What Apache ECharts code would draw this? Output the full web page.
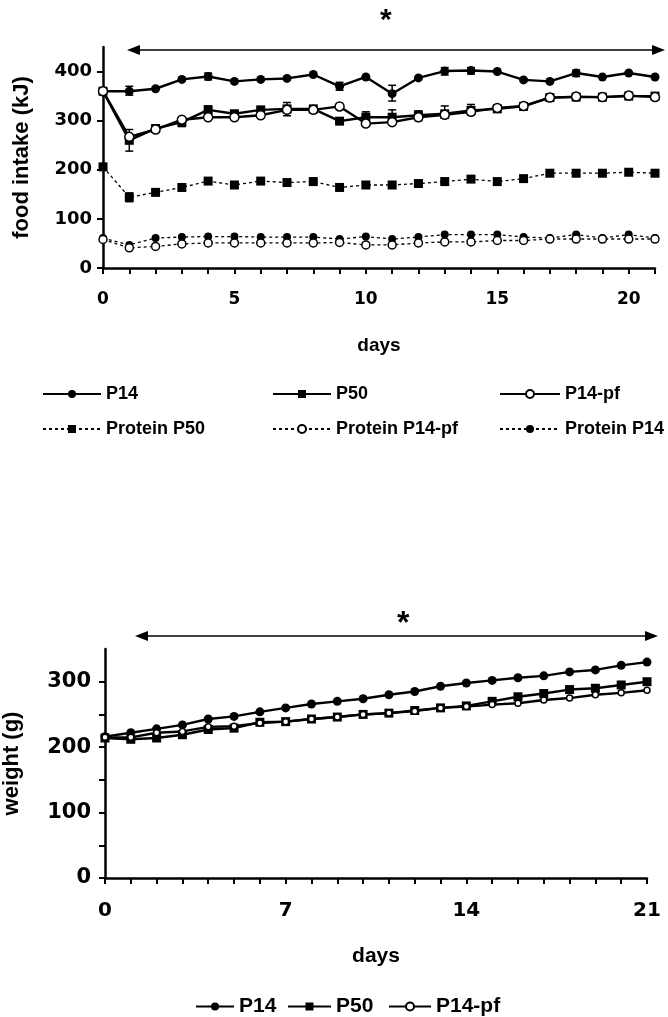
<!DOCTYPE html>
<html>
<head>
<meta charset="utf-8">
<title>food intake and weight</title>
<script src="https://cdn.jsdelivr.net/npm/echarts@6/dist/echarts.min.js"></script>
<style>
  html, body { margin: 0; padding: 0; background: #fff; }
  #main { width: 668px; height: 1017px; }
</style>
</head>
<body>
<div id="main"></div>
<script>
// ---- data ----
var days = [0,1,2,3,4,5,6,7,8,9,10,11,12,13,14,15,16,17,18,19,20,21];

// food intake (kJ)
var intakeP14   = [360,360,365,384,390,380,384,386,394,370,389,355,387,401,402,400,383,380,397,389,397,389];
var intakeP50   = [360,260,284,297,322,314,322,324,324,299,307,307,311,314,321,324,329,347,348,348,350,350];
var intakeP14pf = [360,267,282,302,307,307,311,322,322,329,294,297,307,312,318,326,330,347,349,348,351,348];
var proteinP50   = [206,144,154,164,177,169,177,174,176,164,169,169,172,176,181,176,182,193,193,193,195,193];
var proteinP14pf = [58,41,44,49,51,51,51,51,51,52,47,47,51,53,53,56,56,59,59,59,59,59];
var proteinP14   = [61,47,61,63,64,64,63,63,63,59,64,59,63,68,68,68,63,61,68,61,68,61];

// error bars [day, low, high]
var errP14 = [[1,352,370],[4,383,397],[9,362,378],[11,340,372],[13,393,408],[14,395,408],[18,390,403]];
var errP50 = [[1,238,282],[3,288,305],[4,315,330],[7,310,337],[10,300,318],[11,300,322],[12,300,320],[13,305,330],[14,312,333]];
var errProteinP50 = [[1,135,153]];

// weight (g)
var weightP14   = [216,222,228,234,243,247,254,260,266,270,274,280,285,293,298,302,306,309,315,318,325,330];
var weightP50   = [214,212,214,219,227,229,238,239,243,246,250,252,256,260,263,270,277,282,288,290,295,300];
var weightP14pf = [215,215,222,224,231,232,237,239,243,246,250,252,255,260,262,265,267,272,275,280,283,287];

var intakeTicks = [0,100,200,300,400];
var intakeDayLabels = [0,5,10,15,20];
var weightLabels = [0,100,200,300];
var weightTicks = [0,50,100,150,200,250,300];
var weightDayLabels = [0,7,14,21];

function pairs(vals) {
  return days.map(function (d, i) { return [d, vals[i]]; });
}

var FONT = 'Liberation Sans, Arial, sans-serif';
var NUMFONT = 'DejaVu Sans, sans-serif';
var chart = echarts.init(document.getElementById('main'));

function xAx(gridIndex, labels, fs, nameFs) {
  return {
    type: 'value', gridIndex: gridIndex, min: 0, max: 21, interval: 1,
    name: 'days', nameLocation: 'middle', nameGap: 68,
    nameTextStyle: { fontFamily: FONT, fontWeight: 'bold', fontSize: nameFs, color: '#000' },
    axisLine: { onZero: false, lineStyle: { color: '#000', width: 2.5 } },
    axisTick: { inside: false, length: 6, lineStyle: { color: '#000', width: 2 } },
    axisLabel: { customValues: labels, margin: 23, fontFamily: NUMFONT, fontWeight: 'bold', fontSize: fs, color: '#000' },
    splitLine: { show: false }
  };
}

function lineSeries(name, data, symbol, size, dotted, empty, xi) {
  return {
    name: name, type: 'line', xAxisIndex: xi, yAxisIndex: xi,
    data: pairs(data), symbol: symbol, symbolSize: size,
    showAllSymbol: true,
    lineStyle: { color: '#000', width: dotted ? 1.3 : 2.4, type: dotted ? [3, 3] : 'solid' },
    itemStyle: empty ? { color: '#fff', borderColor: '#000', borderWidth: 1.5 } : { color: '#000' },
    animation: false, z: empty ? 4 : 3
  };
}

function errSeries(data) {
  return {
    type: 'custom', xAxisIndex: 0, yAxisIndex: 0, data: data, z: 2, animation: false,
    renderItem: function (params, api) {
      var lo = api.coord([api.value(0), api.value(1)]);
      var hi = api.coord([api.value(0), api.value(2)]);
      var w = 4;
      var st = { stroke: '#000', lineWidth: 1.5 };
      return { type: 'group', children: [
        { type: 'line', shape: { x1: lo[0], y1: lo[1], x2: hi[0], y2: hi[1] }, style: st },
        { type: 'line', shape: { x1: lo[0] - w, y1: lo[1], x2: lo[0] + w, y2: lo[1] }, style: st },
        { type: 'line', shape: { x1: hi[0] - w, y1: hi[1], x2: hi[0] + w, y2: hi[1] }, style: st }
      ] };
    }
  };
}

function legendAt(name, left, top, w, fs) {
  return {
    data: [name], left: left, top: top, itemWidth: w, itemHeight: 10, padding: 0,
    selectedMode: false,
    textStyle: { fontFamily: FONT, fontWeight: 'bold', fontSize: fs, color: '#000' }
  };
}

function arrow(x1, x2, y) {
  return [
    { type: 'line', shape: { x1: x1 + 10, y1: y, x2: x2 - 10, y2: y }, style: { stroke: '#000', lineWidth: 1.5 } },
    { type: 'polygon', shape: { points: [[x1, y], [x1 + 13, y - 5], [x1 + 13, y + 5]] }, style: { fill: '#000' } },
    { type: 'polygon', shape: { points: [[x2, y], [x2 - 13, y - 5], [x2 - 13, y + 5]] }, style: { fill: '#000' } }
  ];
}

var option = {
  backgroundColor: '#fff',
  animation: false,
  grid: [
    { left: 103, width: 552, top: 47, height: 221, outerBoundsMode: 'none' },
    { left: 105, width: 542, top: 649, height: 229, outerBoundsMode: 'none' }
  ],
  xAxis: [
    xAx(0, intakeDayLabels, 17, 19),
    xAx(1, weightDayLabels, 20, 21)
  ],
  yAxis: [
    {
      type: 'value', gridIndex: 0, min: 0, max: 450, interval: 50,
      name: 'food intake (kJ)', nameLocation: 'middle', nameGap: 70,
      nameTextStyle: { fontFamily: FONT, fontWeight: 'bold', fontSize: 22, color: '#000' },
      axisLine: { show: true, lineStyle: { color: '#000', width: 2.5 } },
      axisTick: { show: true, customValues: intakeTicks, length: 6, lineStyle: { color: '#000', width: 2 } },
      axisLabel: { customValues: intakeTicks, margin: 11, fontFamily: NUMFONT, fontWeight: 'bold', fontSize: 18, color: '#000' },
      splitLine: { show: false }
    },
    {
      type: 'value', gridIndex: 1, min: 0, max: 350, interval: 50,
      name: 'weight (g)', nameLocation: 'middle', nameGap: 82,
      nameTextStyle: { fontFamily: FONT, fontWeight: 'bold', fontSize: 22, color: '#000' },
      axisLine: { show: true, lineStyle: { color: '#000', width: 2.5 } },
      axisTick: { show: true, customValues: weightTicks, length: 6, lineStyle: { color: '#000', width: 2 } },
      axisLabel: { customValues: weightLabels, margin: 14, fontFamily: NUMFONT, fontWeight: 'bold', fontSize: 21, color: '#000' },
      splitLine: { show: false }
    }
  ],
  legend: [
    legendAt('P14', 42, 385, 58, 18),
    legendAt('P50', 272, 385, 58, 18),
    legendAt('P14-pf', 499, 385, 60, 18),
    legendAt('Protein P50', 42, 420, 58, 18),
    legendAt('Protein P14-pf', 272, 420, 58, 18),
    legendAt('Protein P14', 499, 420, 60, 18),
    legendAt('P14', 195, 996, 38, 21),
    legendAt('P50', 287, 996, 43, 21),
    legendAt('P14-pf', 388, 996, 42, 21)
  ],
  graphic: [].concat(
    arrow(127, 665, 50),
    arrow(135, 658, 636),
    [
      { type: 'text', left: 380, top: 6, style: { text: '*', font: 'bold 30px ' + FONT, fill: '#000' } },
      { type: 'text', left: 397, top: 608, style: { text: '*', font: 'bold 32px ' + FONT, fill: '#000' } }
    ]
  ),
  series: [
    errSeries(errP14),
    errSeries(errP50),
    errSeries(errProteinP50),
    lineSeries('Protein P50', proteinP50, 'rect', 9, true, false, 0),
    lineSeries('Protein P14', proteinP14, 'circle', 8, true, false, 0),
    lineSeries('Protein P14-pf', proteinP14pf, 'circle', 8, true, true, 0),
    lineSeries('P50', intakeP50, 'rect', 9, false, false, 0),
    lineSeries('P14', intakeP14, 'circle', 9, false, false, 0),
    lineSeries('P14-pf', intakeP14pf, 'circle', 9, false, true, 0),
    lineSeries('P50', weightP50, 'rect', 9, false, false, 1),
    lineSeries('P14', weightP14, 'circle', 9, false, false, 1),
    lineSeries('P14-pf', weightP14pf, 'circle', 6, false, true, 1)
  ]
};

chart.setOption(option);
</script>
</body>
</html>
